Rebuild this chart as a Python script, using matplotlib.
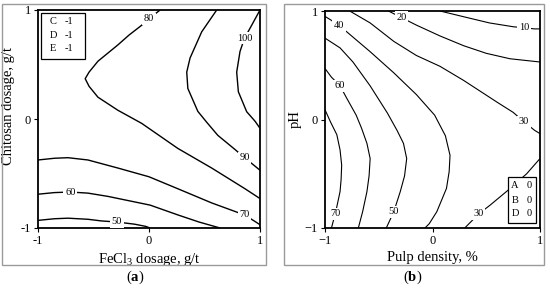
import matplotlib
matplotlib.use("Agg")
import matplotlib.pyplot as plt
from matplotlib.patches import Rectangle

plt.rcParams['font.family'] = ['Liberation Serif', 'DejaVu Serif']
plt.rcParams['mathtext.fontset'] = 'custom'
plt.rcParams['mathtext.rm'] = 'Liberation Serif'
plt.rcParams['mathtext.bf'] = 'Liberation Serif:bold'
plt.rcParams['mathtext.it'] = 'Liberation Serif:italic'

# ---- panel (a): contour lines (level, x, y)
a_lines = [
    (50, [-1, -0.85, -0.73, -0.55, -0.43, -0.29, -0.13, -0.03, 0.01],
         [-0.93, -0.915, -0.91, -0.92, -0.935, -0.945, -0.965, -0.985, -1.0]),
    (60, [-1, -0.85, -0.71, -0.55, -0.37, -0.18, 0.01, 0.26, 0.45, 0.64],
         [-0.69, -0.675, -0.67, -0.68, -0.71, -0.75, -0.79, -0.88, -0.945, -1.0]),
    (70, [-1, -0.85, -0.73, -0.55, -0.28, 0.0, 0.26, 0.565, 0.86, 0.955, 1.0],
         [-0.376, -0.36, -0.355, -0.376, -0.45, -0.53, -0.64, -0.77, -0.88, -0.94, -0.97]),
    (80, [0.10, 0.05, 0.0, -0.066, -0.18, -0.28, -0.46, -0.54, -0.575, -0.54, -0.46, -0.28, -0.066, 0.26, 0.565, 0.865, 1.0],
         [1.0, 0.96, 0.92, 0.86, 0.77, 0.68, 0.53, 0.43, 0.37, 0.30, 0.20, 0.08, -0.04, -0.27, -0.45, -0.64, -0.73]),
    (90, [0.61, 0.475, 0.37, 0.34, 0.35, 0.44, 0.52, 0.62, 0.775, 0.86, 0.94, 1.0],
         [1.0, 0.80, 0.56, 0.43, 0.28, 0.07, -0.03, -0.15, -0.28, -0.355, -0.42, -0.47]),
    (100, [1.0, 0.925, 0.86, 0.82, 0.79, 0.805, 0.88, 0.955, 1.0],
          [1.0, 0.86, 0.74, 0.62, 0.43, 0.25, 0.067, -0.02, -0.085]),
]
a_labels = [(50, -0.29, -0.94), (60, -0.71, -0.67), (70, 0.86, -0.88),
            (80, 0.0, 0.92), (90, 0.86, -0.355), (100, 0.86, 0.74)]
a_fixed = [("C", "-1"), ("D", "-1"), ("E", "-1")]

# ---- panel (b)
b_lines = [
    (10, [0.07, 0.29, 0.53, 0.75, 0.85, 0.95, 1.0],
         [1.0, 0.947, 0.89, 0.855, 0.845, 0.835, 0.835]),
    (20, [-0.41, -0.29, -0.15, 0.07, 0.29, 0.50, 0.72, 1.0],
         [1.0, 0.94, 0.87, 0.77, 0.68, 0.61, 0.56, 0.53]),
    (30, [-0.77, -0.58, -0.36, -0.15, 0.07, 0.29, 0.60, 0.75, 0.85, 0.95, 1.0],
         [1.0, 0.89, 0.72, 0.59, 0.49, 0.36, 0.16, 0.066, -0.02, -0.10, -0.13]),
    (30, [0.30, 0.35, 0.43, 0.535, 0.705, 0.876, 1.0],
         [-1.0, -0.95, -0.87, -0.79, -0.65, -0.50, -0.36]),
    (40, [-1.0, -0.95, -0.87, -0.80, -0.58, -0.36, -0.15, 0.02, 0.12, 0.163, 0.155, 0.13, 0.04, -0.03, -0.07],
         [0.95, 0.92, 0.865, 0.81, 0.625, 0.43, 0.23, 0.04, -0.15, -0.33, -0.48, -0.635, -0.85, -0.96, -1.0]),
    (50, [-1.0, -0.86, -0.74, -0.58, -0.42, -0.33, -0.27, -0.24, -0.26, -0.30, -0.36, -0.43],
         [0.75, 0.66, 0.53, 0.31, 0.06, -0.10, -0.22, -0.36, -0.52, -0.665, -0.85, -1.0]),
    (60, [-1.0, -0.94, -0.86, -0.80, -0.71, -0.66, -0.61, -0.58, -0.59, -0.61, -0.65, -0.69],
         [0.47, 0.39, 0.31, 0.20, 0.04, -0.08, -0.22, -0.36, -0.52, -0.665, -0.85, -1.0]),
    (70, [-1.0, -0.95, -0.89, -0.86, -0.845, -0.85, -0.86, -0.90, -0.94],
         [0.09, -0.02, -0.14, -0.28, -0.42, -0.55, -0.665, -0.85, -1.0]),
]
b_labels = [(10, 0.85, 0.846), (20, -0.29, 0.94), (30, 0.85, -0.02), (30, 0.43, -0.87),
            (40, -0.87, 0.865), (50, -0.36, -0.85), (60, -0.86, 0.31), (70, -0.90, -0.87)]
b_fixed = [("A", "0"), ("B", "0"), ("D", "0")]

ticks = [-1, 0, 1]

fig = plt.figure(figsize=(5.5, 2.94), dpi=100)

# gray frames round each panel
for x0, x1 in [(2, 266), (284, 544)]:
    fig.patches.append(Rectangle((x0 / 550, 1 - 265 / 294), (x1 - x0) / 550, 261 / 294,
                                 transform=fig.transFigure, fill=False,
                                 edgecolor='#9a9a9a', lw=1.0))

axa = fig.add_axes([38 / 550, 1 - 228 / 294, 222 / 550, 218 / 294])
axb = fig.add_axes([325 / 550, 1 - 228 / 294, 215 / 550, 217 / 294])


def draw(ax, lines, labels, lw):
    for lev, xs, ys in lines:
        ax.plot(xs, ys, color='black', lw=lw, solid_capstyle='butt')
    for lev, x, y in labels:
        ax.text(x, y, str(lev), fontsize=7.5, ha='center', va='center', zorder=4,
                bbox=dict(boxstyle='square,pad=0.15', fc='white', ec='none'))
    ax.set_xlim(-1, 1)
    ax.set_ylim(-1, 1)
    ax.set_xticks(ticks)
    ax.set_yticks(ticks)
    ax.tick_params(direction='out', length=3, width=0.8, pad=2, labelsize=9)
    for s in ax.spines.values():
        s.set_linewidth(1.3)


def fixed_box(ax, items, box, col_x, row_y):
    ax.add_patch(Rectangle((box[0], box[1]), box[2] - box[0], box[3] - box[1],
                           transform=ax.transAxes, fc='white', ec='black', lw=0.9, zorder=5))
    for (k, v), y in zip(items, row_y):
        ax.text(col_x[0], y, k, transform=ax.transAxes, fontsize=7.5,
                ha='center', va='center', zorder=6)
        ax.text(col_x[1], y, v, transform=ax.transAxes, fontsize=7.5,
                ha='center', va='center', zorder=6)


draw(axa, a_lines, a_labels, 1.0)
axa.set_xticklabels(["-1", "0", "1"])
axa.set_yticklabels(["-1", "0", "1"])
axa.set_xlabel("FeCl$_3$ dosage, g/t", fontsize=10.5)
axa.set_ylabel("Chitosan dosage, g/t", fontsize=10.5)
axa.xaxis.set_label_coords(0.5, -0.105)
axa.yaxis.set_label_coords(-0.105, 0.56)
fixed_box(axa, a_fixed, (0.0135, 0.775, 0.212, 0.985), (0.069, 0.141), (0.947, 0.885, 0.823))

draw(axb, b_lines, b_labels, 0.8)
axb.set_xticklabels(["\u22121", "0", "1"])
axb.set_yticklabels(["\u22121", "0", "1"])
axb.set_xlabel("Pulp density, %", fontsize=10.5)
axb.set_ylabel("pH", fontsize=10.5)
axb.xaxis.set_label_coords(0.5, -0.105)
axb.yaxis.set_label_coords(-0.11, 0.5)
fixed_box(axb, b_fixed, (0.853, 0.022, 0.981, 0.236), (0.884, 0.950), (0.194, 0.129, 0.065))

fig.text(135 / 550, 1 - 277 / 294, r"($\mathbf{a}$)", fontsize=10.5, ha='center', va='center')
fig.text(413 / 550, 1 - 277 / 294, r"($\mathbf{b}$)", fontsize=10.5, ha='center', va='center')

fig.savefig("out.png", dpi=100)
